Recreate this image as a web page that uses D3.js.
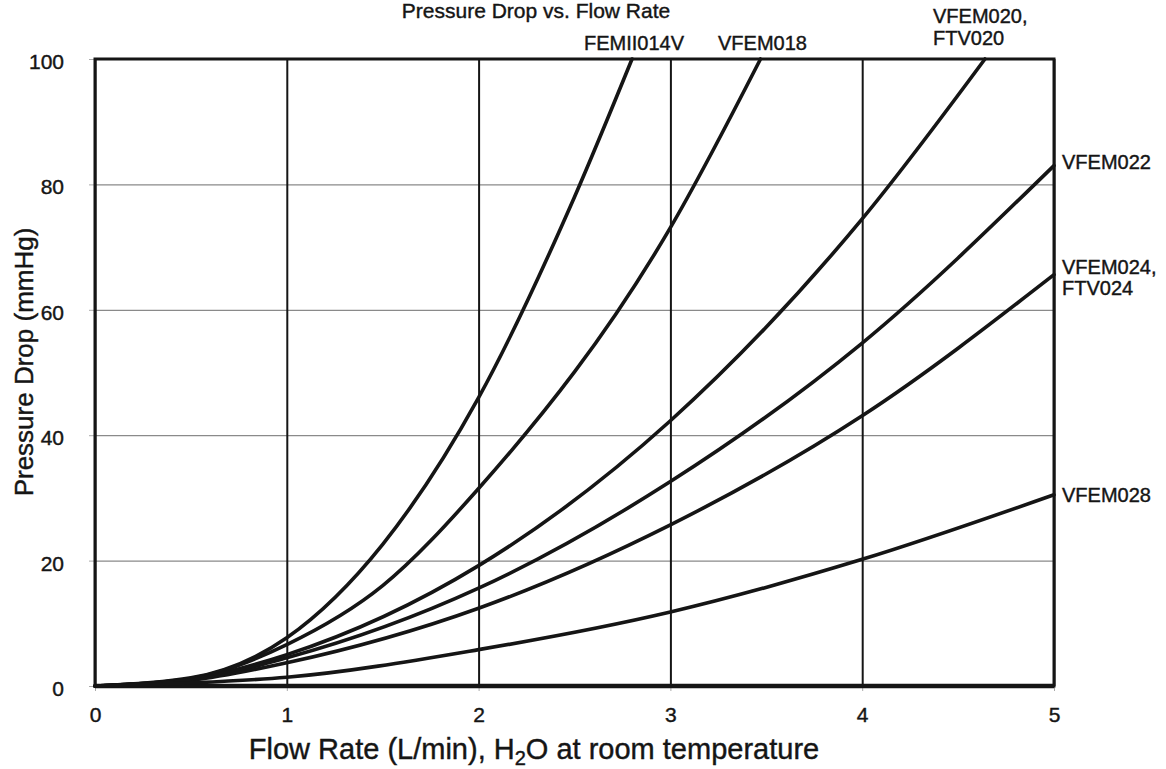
<!DOCTYPE html>
<html>
<head>
<meta charset="utf-8">
<script src="https://cdn.jsdelivr.net/npm/d3@7"></script>
<style>
  body { margin: 0; background: #fff; }
  text { font-family: "Liberation Sans", Arial, sans-serif; fill: #151515; stroke: #151515; stroke-width: 0.4px; }
</style>
</head>
<body>
<div id="chart"></div>
<script>
// values
var flowTicks = [0, 1, 2, 3, 4, 5];
var dropTicks = [0, 20, 40, 60, 80, 100];

var femii014vFlow = [0, 0.5, 1, 1.5, 2, 2.5, 2.8];
var femii014vDrop = [0, 1.3, 7.7, 22.6, 46, 78, 100];

var vfem018Flow = [0, 0.5, 1, 1.5, 2, 3, 3.47];
var vfem018Drop = [0, 1.2, 6.6, 16, 31.5, 73.1, 100];

var vfem020Flow = [0, 0.5, 1, 2, 3, 4, 4.64];
var vfem020Drop = [0, 1.1, 5.0, 19.2, 42.3, 74.5, 100];

var vfem022Flow = [0, 0.5, 1, 2, 3, 4, 5];
var vfem022Drop = [0, 1.0, 4.5, 15.6, 32.6, 54.7, 83];

var vfem024Flow = [0, 0.5, 1, 2, 3, 4, 5];
var vfem024Drop = [0, 0.9, 3.7, 12.4, 25.7, 43.1, 65.6];

var vfem028Flow = [0, 0.5, 1, 2, 3, 4, 5];
var vfem028Drop = [0, 0.5, 1.4, 5.8, 11.8, 20.2, 30.5];

var seriesFlow = [femii014vFlow, vfem018Flow, vfem020Flow, vfem022Flow, vfem024Flow, vfem028Flow];
var seriesDrop = [femii014vDrop, vfem018Drop, vfem020Drop, vfem022Drop, vfem024Drop, vfem028Drop];

var svgWidth = 1166;
var svgHeight = 769;

var margin = { top: 59, right: 112, bottom: 83, left: 95 };
var width = svgWidth - margin.left - margin.right;
var height = svgHeight - margin.top - margin.bottom;

var svg = d3.select("#chart")
  .append("svg")
  .attr("width", svgWidth)
  .attr("height", svgHeight);

var chartGroup = svg.append("g")
  .attr("transform", `translate(${margin.left}, ${margin.top})`);

var xLinearScale = d3.scaleLinear().domain([0, 5]).range([0, width]);
var yLinearScale = d3.scaleLinear().domain([0, 100]).range([height, 0]);

// horizontal grid (thin grey)
var yGrid = chartGroup.append("g")
  .call(d3.axisLeft(yLinearScale).tickValues(dropTicks).tickSize(-width).tickFormat(""));
yGrid.select(".domain").remove();
yGrid.selectAll("line").attr("stroke", "#8a8a8a").attr("stroke-width", 1.2);

// vertical grid (dark)
var xGrid = chartGroup.append("g")
  .attr("transform", `translate(0, ${height})`)
  .call(d3.axisBottom(xLinearScale).tickValues(flowTicks).tickSize(-height).tickFormat(""));
xGrid.select(".domain").remove();
xGrid.selectAll("line").attr("stroke", "#151515").attr("stroke-width", 2);

// tick labels
var leftAxis = chartGroup.append("g")
  .call(d3.axisLeft(yLinearScale).tickValues(dropTicks).tickSize(6).tickPadding(25).tickFormat(d3.format("d")));
leftAxis.select(".domain").remove();
leftAxis.selectAll("line").attr("stroke", "#aaa");
leftAxis.selectAll("text")
  .attr("font-size", "21px")
  .attr("dy", "0.45em")
  .style("font-family", "'Liberation Sans', Arial, sans-serif")
  .style("fill", "#151515");

var bottomAxis = chartGroup.append("g")
  .attr("transform", `translate(0, ${height})`)
  .call(d3.axisBottom(xLinearScale).tickValues(flowTicks).tickSize(5).tickPadding(16).tickFormat(d3.format("d")));
bottomAxis.select(".domain").remove();
bottomAxis.selectAll("line").attr("stroke", "#aaa");
bottomAxis.selectAll("text")
  .attr("font-size", "21px")
  .style("font-family", "'Liberation Sans', Arial, sans-serif")
  .style("fill", "#151515");

// frame
chartGroup.append("rect")
  .attr("x", 0).attr("y", 0)
  .attr("width", width).attr("height", height)
  .attr("fill", "none")
  .attr("stroke", "#151515")
  .attr("stroke-width", 3);
chartGroup.append("line")
  .attr("x1", 0).attr("x2", width)
  .attr("y1", height).attr("y2", height)
  .attr("stroke", "#151515")
  .attr("stroke-width", 4.5);

// curves
var line = d3.line()
  .x(d => xLinearScale(d[0]))
  .y(d => yLinearScale(d[1]))
  .curve(d3.curveMonotoneX);

seriesFlow.forEach(function(flow, i) {
  var pts = flow.map((f, j) => [f, seriesDrop[i][j]]);
  chartGroup.append("path")
    .datum(pts)
    .attr("fill", "none")
    .attr("stroke", "#151515")
    .attr("stroke-width", 3.6)
    .attr("stroke-linejoin", "round")
    .attr("stroke-linecap", "round")
    .attr("d", line);
});

// curve labels
function label(txt, x, y) {
  svg.append("text")
    .attr("x", x).attr("y", y)
    .attr("font-size", "20px")
    .text(txt);
}
label("FEMII014V", 584, 50);
label("VFEM018", 718, 50);
label("VFEM020,", 933, 23);
label("FTV020", 933, 45);
label("VFEM022", 1062, 169);
label("VFEM024,", 1062, 274);
label("FTV024", 1062, 295);
label("VFEM028", 1062, 502);

// title
svg.append("text")
  .attr("x", 536).attr("y", 18)
  .attr("text-anchor", "middle")
  .attr("font-size", "21px")
  .text("Pressure Drop vs. Flow Rate");

// axis titles
var xTitle = svg.append("text")
  .attr("x", 534).attr("y", 759)
  .attr("text-anchor", "middle")
  .attr("font-size", "29px");
xTitle.append("tspan").text("Flow Rate (L/min), H");
xTitle.append("tspan").attr("font-size", "20px").attr("dy", 6).text("2");
xTitle.append("tspan").attr("dy", -6).text("O at room temperature");

svg.append("text")
  .attr("transform", "translate(33, 362) rotate(-90)")
  .attr("text-anchor", "middle")
  .attr("font-size", "26px")
  .text("Pressure Drop (mmHg)");
</script>
</body>
</html>
